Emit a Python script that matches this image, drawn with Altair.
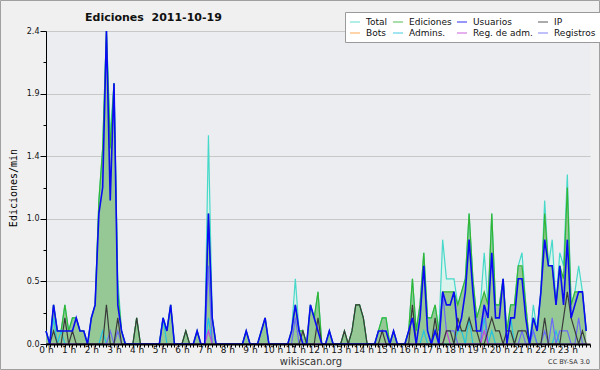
import altair as alt
import pandas as pd

# 10-minute buckets of the day (minutes after midnight)
MINUTES = list(range(0, 1440, 10))

SERIES = ["Total", "Ediciones", "Usuarios", "IP", "Bots", "Admins.", "Reg. de adm.", "Registros"]
LINE_COLORS = ["#46d9c9", "#33b533", "#0a0af5", "#3a3a3a", "#ff9933", "#22c4e0", "#c545dd", "#6b6bf5"]

TOTAL = [
    0.1, 0, 0.3, 0.1, 0.1, 0.3,
    0.1, 0.2, 0.2, 0.1, 0.1, 0,
    0.2, 0.3, 1.1, 1.5, 2.4, 1.6,
    2.0, 0.5, 0.1, 0, 0, 0,
    0.2, 0, 0, 0, 0, 0,
    0, 0.2, 0.1, 0.3, 0, 0,
    0, 0.1, 0, 0, 0.1, 0,
    0, 1.6, 0.2, 0, 0, 0,
    0, 0, 0, 0, 0, 0.1,
    0, 0, 0, 0.1, 0.2, 0,
    0, 0, 0, 0, 0, 0.1,
    0.5, 0.1, 0.1, 0, 0.3, 0.2,
    0.4, 0, 0, 0.1, 0, 0,
    0, 0.1, 0, 0.1, 0.3, 0.3,
    0.2, 0, 0, 0, 0.1, 0.2,
    0.2, 0, 0.1, 0, 0, 0,
    0.1, 0.5, 0.1, 0.3, 0.7, 0.2,
    0.2, 0.3, 0.1, 0.8, 0.5, 0.5,
    0.5, 0.3, 0.4, 0.5, 1.0, 0.5,
    0.2, 0.3, 0.7, 0.3, 1.0, 0.3,
    0.3, 0.5, 0.1, 0.3, 0.3, 0.6,
    0.7, 0.3, 0, 0.3, 0.1, 0.4,
    1.1, 0.6, 0.8, 0.3, 0.7, 0.6,
    1.3, 0.3, 0.4, 0.6, 0.4, 0.1,
]

EDICIONES = [
    0.1, 0, 0.3, 0.1, 0.1, 0.3,
    0.1, 0.2, 0.2, 0.1, 0.1, 0,
    0.2, 0.3, 1.1, 1.5, 2.4, 1.5,
    2.0, 0.4, 0.1, 0, 0, 0,
    0.2, 0, 0, 0, 0, 0,
    0, 0.2, 0.1, 0.3, 0, 0,
    0, 0.1, 0, 0, 0.1, 0,
    0, 1.0, 0.2, 0, 0, 0,
    0, 0, 0, 0, 0, 0.1,
    0, 0, 0, 0.1, 0.2, 0,
    0, 0, 0, 0, 0, 0.1,
    0.3, 0.1, 0.1, 0, 0.3, 0.2,
    0.4, 0, 0, 0.1, 0, 0,
    0, 0.1, 0, 0.1, 0.3, 0.3,
    0.2, 0, 0, 0, 0.1, 0.2,
    0.2, 0, 0.1, 0, 0, 0,
    0.1, 0.5, 0.1, 0.3, 0.7, 0.2,
    0.2, 0.3, 0.1, 0.4, 0.4, 0.4,
    0.4, 0.3, 0.4, 0.5, 1.0, 0.5,
    0.2, 0.3, 0.4, 0.3, 1.0, 0.3,
    0.3, 0.5, 0.1, 0.3, 0.3, 0.6,
    0.6, 0.3, 0, 0.2, 0.1, 0.4,
    1.0, 0.6, 0.6, 0.3, 0.6, 0.5,
    1.2, 0.3, 0.4, 0.4, 0.4, 0.1,
]

USUARIOS = [
    0.1, 0, 0.3, 0.1, 0.1, 0.1,
    0.1, 0.1, 0.2, 0.1, 0.1, 0,
    0.2, 0.3, 1.0, 1.2, 2.4, 1.1,
    2.0, 0.3, 0.1, 0, 0, 0,
    0, 0, 0, 0, 0, 0,
    0, 0.2, 0.1, 0.3, 0, 0,
    0, 0, 0, 0, 0.1, 0,
    0, 1.0, 0.2, 0, 0, 0,
    0, 0, 0, 0, 0, 0.1,
    0, 0, 0, 0.1, 0.2, 0,
    0, 0, 0, 0, 0, 0.1,
    0.3, 0.1, 0, 0, 0.3, 0.2,
    0.1, 0, 0, 0.1, 0, 0,
    0, 0, 0, 0, 0, 0,
    0, 0, 0, 0, 0.1, 0.1,
    0.1, 0, 0.1, 0, 0, 0,
    0.1, 0.2, 0, 0.2, 0.6, 0.1,
    0, 0.1, 0, 0.4, 0.3, 0.3,
    0.4, 0.1, 0.2, 0.4, 0.8, 0.4,
    0.1, 0.1, 0.3, 0.2, 0.7, 0.2,
    0.2, 0.5, 0, 0.2, 0.2, 0.5,
    0.5, 0.2, 0, 0.2, 0.1, 0.4,
    0.8, 0.6, 0.6, 0.3, 0.6, 0.3,
    0.8, 0.2, 0.3, 0.4, 0.4, 0.1,
]

IP = [
    0, 0, 0.1, 0, 0, 0.2,
    0, 0.1, 0, 0, 0, 0,
    0, 0, 0, 0, 0.3, 0,
    0, 0.2, 0, 0, 0, 0,
    0.2, 0, 0, 0, 0, 0,
    0, 0, 0, 0, 0, 0,
    0, 0.1, 0, 0, 0, 0,
    0, 0, 0, 0, 0, 0,
    0, 0, 0, 0, 0, 0,
    0, 0, 0, 0, 0, 0,
    0, 0, 0, 0, 0, 0,
    0, 0, 0.1, 0, 0, 0,
    0.2, 0, 0, 0, 0, 0,
    0, 0.1, 0, 0.1, 0.3, 0.3,
    0.2, 0, 0, 0, 0, 0.1,
    0, 0, 0, 0, 0, 0,
    0, 0.3, 0, 0, 0, 0,
    0, 0.2, 0, 0, 0.1, 0.1,
    0, 0.2, 0.1, 0.1, 0.2, 0.1,
    0.1, 0, 0, 0.1, 0.2, 0.1,
    0.1, 0, 0.1, 0.1, 0, 0.1,
    0.1, 0.1, 0, 0, 0, 0,
    0.2, 0, 0, 0, 0, 0.2,
    0.4, 0.2, 0.1, 0, 0.1, 0,
]

ADMINS = [
    0, 0, 0.2, 0, 0.1, 0,
    0, 0, 0, 0, 0, 0,
    0, 0, 0, 0.1, 0, 0,
    0, 0, 0, 0, 0, 0,
    0, 0, 0, 0, 0, 0,
    0, 0.2, 0, 0, 0, 0,
    0, 0, 0, 0, 0, 0,
    0, 0.2, 0, 0, 0, 0,
    0, 0, 0, 0, 0, 0,
    0, 0, 0, 0, 0, 0,
    0, 0, 0, 0, 0, 0,
    0, 0, 0, 0, 0, 0,
    0, 0, 0, 0, 0, 0,
    0, 0, 0, 0, 0, 0,
    0, 0, 0, 0, 0, 0,
    0, 0, 0, 0, 0, 0,
    0, 0, 0, 0, 0.1, 0,
    0, 0.1, 0, 0, 0, 0,
    0, 0.1, 0.1, 0, 0.2, 0,
    0, 0, 0.2, 0, 0.1, 0,
    0, 0, 0, 0.2, 0, 0,
    0, 0, 0, 0.1, 0, 0,
    0, 0, 0, 0.1, 0, 0,
    0, 0, 0, 0, 0, 0,
]

REG_ADM = [
    0, 0, 0, 0, 0, 0,
    0, 0, 0, 0, 0, 0,
    0, 0, 0, 0, 0, 0,
    0, 0, 0, 0, 0, 0,
    0, 0, 0, 0, 0, 0,
    0, 0, 0, 0, 0, 0,
    0, 0, 0, 0, 0, 0,
    0, 0.1, 0, 0, 0, 0,
    0, 0, 0, 0, 0, 0,
    0, 0, 0, 0, 0, 0,
    0, 0, 0, 0, 0, 0,
    0, 0, 0, 0, 0, 0,
    0, 0, 0, 0, 0, 0,
    0, 0, 0, 0, 0, 0,
    0, 0, 0, 0, 0, 0,
    0, 0, 0, 0, 0, 0,
    0, 0, 0, 0, 0, 0,
    0, 0, 0, 0, 0.1, 0,
    0, 0, 0, 0, 0, 0,
    0, 0, 0.1, 0, 0, 0,
    0, 0, 0, 0, 0, 0,
    0, 0, 0, 0, 0, 0,
    0, 0, 0, 0, 0, 0,
    0, 0, 0, 0, 0, 0,
]

REGISTROS = [
    0, 0, 0, 0, 0, 0,
    0, 0, 0, 0, 0, 0,
    0, 0, 0, 0, 0, 0.1,
    0, 0.1, 0, 0, 0, 0,
    0, 0, 0, 0, 0, 0,
    0, 0, 0, 0, 0, 0,
    0, 0, 0, 0, 0, 0,
    0, 0.6, 0, 0, 0, 0,
    0, 0, 0, 0, 0, 0,
    0, 0, 0, 0, 0, 0,
    0, 0, 0, 0, 0, 0,
    0.2, 0, 0, 0, 0, 0,
    0, 0, 0, 0, 0, 0,
    0, 0, 0, 0, 0, 0,
    0, 0, 0, 0, 0, 0,
    0, 0, 0, 0, 0, 0,
    0, 0, 0, 0, 0, 0,
    0, 0, 0, 0.4, 0.1, 0.1,
    0.1, 0, 0, 0, 0, 0,
    0, 0, 0.3, 0, 0, 0,
    0, 0, 0, 0, 0, 0,
    0.1, 0, 0, 0.1, 0, 0,
    0.1, 0, 0.2, 0, 0.1, 0.1,
    0.1, 0, 0, 0.2, 0, 0,
]

X_TICKS = [m / 60 for m in range(0, 1441, 10)]
Y_TICKS = [0, 0.24, 0.48, 0.72, 0.96, 1.2, 1.44, 1.68, 1.92, 2.16, 2.4]

TITLE = "Ediciones\u00a0 2011-10-19"
FOOTER = "wikiscan.org"
LICENSE = "CC BY-SA 3.0"


def frame(name, vals):
    return pd.DataFrame({"hour": [m / 60 for m in MINUTES], "value": vals, "serie": name})


df = pd.concat([
    frame("Total", TOTAL),
    frame("Ediciones", EDICIONES),
    frame("Usuarios", USUARIOS),
    frame("IP", IP),
    frame("Admins.", ADMINS),
    frame("Reg. de adm.", REG_ADM),
    frame("Registros", REGISTROS),
], ignore_index=True)

major = "abs(datum.value/0.48 - round(datum.value/0.48)) < 0.01"

x_axis = alt.Axis(
    values=X_TICKS, title=None, grid=False, labelOverlap=False, labelFlush=False,
    labelExpr="abs(datum.value - round(datum.value)) < 0.01 && datum.value < 23.5 ? round(datum.value) + ' h' : ''",
    labelFont="DejaVu Sans", labelFontSize=9, labelColor="#111", labelPadding=-2,
    tickSize=3, tickColor="#000", domainColor="#000", domainWidth=2, zindex=1,
)
y_axis = alt.Axis(
    values=Y_TICKS, title="Ediciones/min",
    titleFont="DejaVu Sans Mono", titleFontSize=10, titleFontWeight="normal", titleColor="#000",
    titleX=-33, titleY=156.5, titleAngle=270, titleAlign="center", titleBaseline="middle",
    labelExpr=f"{major} ? format(datum.value, '.1f') : ''",
    labelFont="DejaVu Sans", labelFontSize=8, labelColor="#111", labelPadding=1, labelOverlap=False,
    tickSize={"condition": {"test": major, "value": 6}, "value": 3},
    tickColor="#000", domainColor="#000", domainWidth=1,
    grid=True, gridColor="#c8c8c8", gridWidth=1,
    gridOpacity={"condition": {"test": major, "value": 1}, "value": 0},
)

X = alt.X("hour:Q", scale=alt.Scale(domain=[0, 24], nice=False, zero=False), axis=x_axis)
Y = alt.Y("value:Q", scale=alt.Scale(domain=[0, 2.4], nice=False), axis=y_axis)

legend = alt.Legend(
    title=None, orient="none", legendX=299, legendY=-19, columns=4, direction="horizontal",
    fillColor="white", strokeColor="#9a9a9a", padding=4, cornerRadius=0,
    labelFont="DejaVu Sans", labelFontSize=9, labelColor="#111", labelOffset=5, labelLimit=200,
    symbolType="stroke", symbolSize=100, symbolStrokeWidth=1.2, symbolOpacity=0.7,
    columnPadding=2, rowPadding=0,
)
COLOR = alt.Color("serie:N", scale=alt.Scale(domain=SERIES, range=LINE_COLORS), legend=legend)

base = alt.Chart(df)


def sel(name):
    return base.transform_filter(alt.datum.serie == name)


total_fill = sel("Total").mark_area(color="#dcf2ec").encode(x=X, y=Y)
edit_fill = sel("Ediciones").mark_area(color="#96c896").encode(x=X, y=Y)


def line(name, width=1.2):
    return sel(name).mark_line(strokeWidth=width).encode(x=X, y=Y, color=COLOR)


one = pd.DataFrame({"t": [TITLE]})
shadow = alt.Chart(one).mark_rect(color="#8a8a8a").encode(
    x=alt.value(302), x2=alt.value(550), y=alt.value(-16), y2=alt.value(10))
border = alt.Chart(one).mark_rect(fill="transparent", stroke="#a0a0a0", strokeWidth=1).encode(
    x=alt.value(-45.5), x2=alt.value(553.5), y=alt.value(-30.5), y2=alt.value(338.5))
title = alt.Chart(pd.DataFrame({"t": [TITLE]})).mark_text(
    align="left", baseline="alphabetic", font="DejaVu Sans", fontSize=11, fontWeight="bold", color="#111"
).encode(x=alt.value(39), y=alt.value(-10.5), text="t:N")
footer = alt.Chart(pd.DataFrame({"t": [FOOTER]})).mark_text(
    align="center", baseline="alphabetic", font="DejaVu Sans", fontSize=10, color="#333"
).encode(x=alt.value(265), y=alt.value(334), text="t:N")
lic = alt.Chart(pd.DataFrame({"t": [LICENSE]})).mark_text(
    align="right", baseline="alphabetic", font="DejaVu Sans", fontSize=6.5, color="#333"
).encode(x=alt.value(544), y=alt.value(333), text="t:N")

chart = alt.layer(
    border, shadow,
    total_fill, edit_fill,
    line("Total"), line("Ediciones"), line("Admins."), line("Registros"),
    line("Reg. de adm."), line("IP"), line("Usuarios", 1.6),
    title, footer, lic,
).properties(
    width=544, height=313,
    autosize=alt.AutoSizeParams(type="none"),
    padding={"left": 46, "top": 31, "right": 10, "bottom": 26},
    background="#f0f0f0",
).configure_view(fill="#ecedf0", stroke="transparent")

chart.save("out.html", embed_options={"renderer": "svg", "actions": False})
